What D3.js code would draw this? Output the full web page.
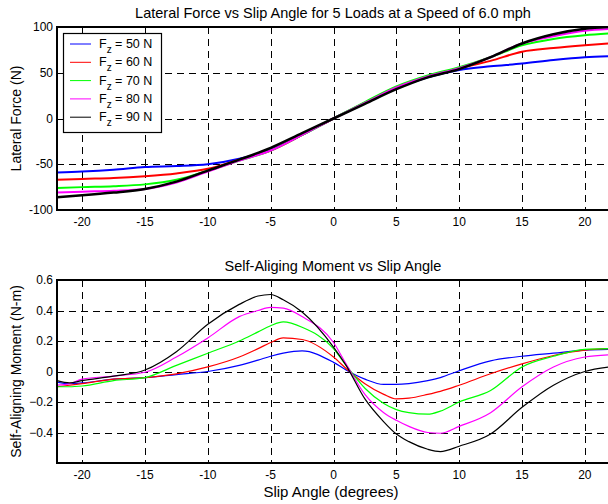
<!DOCTYPE html>
<html>
<head>
<meta charset="utf-8">
<script src="https://cdn.jsdelivr.net/npm/d3@7"></script>
<style>
body{margin:0;background:#fff;}
text{font-family:"Liberation Sans",Arial,sans-serif;}
</style>
</head>
<body>
<div id="canvas"></div>
<script>
var w = 608;
var h = 504;

// loads and colours
var loads = [50, 60, 70, 80, 90];
var colors = ["#0000ff", "#ff0000", "#00ff00", "#ff00ff", "#000000"];

// lateral force (N) vs slip angle
var slipTop = [-22,-20,-17.5,-15,-12.5,-10,-7.5,-5,-2.5,0,2.5,5,7.5,10,12.5,15,17.5,20,22];
var fy50 = [-59,-58,-56,-53,-52,-50,-44,-34,-18,0,17,33,45,53,57,60,64,67,68];
var fy60 = [-67,-66,-65,-63,-60,-55,-45,-35,-18,0,17,34,46,55,63,73,77,80,82];
var fy70 = [-76,-75,-74,-72,-67,-57,-46,-35,-18,0,18,35,47,56,67,80,87,91,93];
var fy80 = [-81,-80,-79,-77,-70,-58,-46,-35,-18,0,17,34,46,55,67,82,90,96,98];
var fy90 = [-86,-84,-81,-77,-69,-57,-45,-32,-16,0,16,32,45,54,67,82,92,98,100];

// self-aligning moment (N-m) vs slip angle
var slipBot = [-22,-21,-20,-17.5,-15,-12.5,-10,-7.5,-6,-5,-4,-2.5,0,1,2.5,4,5,6,7.5,8.5,10,12.5,15,17.5,20,22];
var mz50 = [-0.07,-0.08,-0.075,-0.05,-0.04,-0.02,0.0,0.04,0.075,0.1,0.12,0.135,0.06,0.01,-0.05,-0.085,-0.085,-0.08,-0.06,-0.04,0.005,0.07,0.1,0.12,0.14,0.145];
var mz60 = [-0.1,-0.09,-0.08,-0.05,-0.04,-0.015,0.03,0.095,0.15,0.19,0.22,0.21,0.095,0.02,-0.08,-0.15,-0.18,-0.175,-0.15,-0.13,-0.09,-0.015,0.05,0.105,0.14,0.15];
var mz70 = [-0.1,-0.1,-0.095,-0.06,-0.04,0.04,0.12,0.2,0.26,0.3,0.325,0.29,0.15,0.04,-0.11,-0.21,-0.25,-0.27,-0.28,-0.26,-0.2,-0.125,0.03,0.1,0.145,0.15];
var mz80 = [-0.09,-0.08,-0.05,-0.03,-0.005,0.095,0.22,0.36,0.4,0.42,0.415,0.36,0.19,0.05,-0.15,-0.27,-0.32,-0.36,-0.4,-0.405,-0.36,-0.27,-0.1,0.03,0.095,0.11];
var mz90 = [-0.06,-0.075,-0.06,-0.03,0.01,0.13,0.31,0.44,0.495,0.505,0.47,0.39,0.16,0.04,-0.18,-0.33,-0.41,-0.46,-0.51,-0.525,-0.49,-0.41,-0.235,-0.09,0.0,0.03];

var xTicks = [-20,-15,-10,-5,0,5,10,15,20];
var yTicksTop = [-100,-50,0,50,100];
var yTicksBot = [-0.4,-0.2,0,0.2,0.4,0.6];

var svg = d3.select("#canvas").append("svg")
	.attr("width", w)
	.attr("height", h)
	.style("background-color", "white");

var xScale = d3.scaleLinear().domain([-22, 22]).range([57, 610]);
var yTop = d3.scaleLinear().domain([-100, 100]).range([210, 27]);
var yBot = d3.scaleLinear().domain([-0.6, 0.6]).range([463, 280]);

function panel(yScale, yTicks, gridY, xs, series, widths, title, ylabel, fmt){
	var y0 = yScale.range()[1], y1 = yScale.range()[0];
	var g = svg.append("g");
	var clipId = "clip" + Math.round(y0);
	svg.append("clipPath").attr("id", clipId)
		.append("rect").attr("x", 57).attr("y", y0).attr("width", 553).attr("height", y1 - y0);

	// grid
	g.selectAll(".gx").data(xTicks).join("line")
		.attr("x1", function(d){ return Math.round(xScale(d)) + 0.5; })
		.attr("x2", function(d){ return Math.round(xScale(d)) + 0.5; })
		.attr("y1", y0).attr("y2", y1)
		.attr("stroke", "#000").attr("stroke-width", 1)
		.attr("stroke-dasharray", "7,5");
	g.selectAll(".gy").data(gridY).join("line")
		.attr("x1", 57).attr("x2", 610)
		.attr("y1", function(d){ return Math.round(yScale(d)) + 0.5; })
		.attr("y2", function(d){ return Math.round(yScale(d)) + 0.5; })
		.attr("stroke", "#000").attr("stroke-width", 1)
		.attr("stroke-dasharray", "7,5");

	// lines
	var line = d3.line()
		.x(function(d){ return xScale(d[0]); })
		.y(function(d){ return yScale(d[1]); })
		.curve(d3.curveMonotoneX);
	var lg = g.append("g").attr("clip-path", "url(#" + clipId + ")");
	series.forEach(function(vals, i){
		lg.append("path")
			.datum(xs.map(function(x, j){ return [x, vals[j]]; }))
			.attr("d", line)
			.attr("fill", "none")
			.attr("stroke", colors[i])
			.attr("stroke-width", widths[i]);
	});

	// frame
	g.append("rect")
		.attr("x", 57).attr("y", y0)
		.attr("width", 560).attr("height", y1 - y0)
		.attr("fill", "none").attr("stroke", "#000").attr("stroke-width", 2);

	// tick labels
	g.selectAll(".xl").data(xTicks).join("text")
		.attr("x", function(d){ return xScale(d); })
		.attr("y", y1 + 16)
		.attr("text-anchor", "middle")
		.attr("font-size", 12)
		.text(function(d){ return d; });
	g.selectAll(".yl").data(yTicks).join("text")
		.attr("x", 53)
		.attr("y", function(d){ return yScale(d) + 4; })
		.attr("text-anchor", "end")
		.attr("font-size", 12)
		.text(fmt);

	// title and y label
	g.append("text").attr("x", 333).attr("y", y0 - 9)
		.attr("text-anchor", "middle").attr("font-size", 14.5).text(title);
	g.append("text")
		.attr("transform", "translate(21," + ((y0 + y1) / 2) + ") rotate(-90)")
		.attr("text-anchor", "middle").attr("font-size", 14).text(ylabel);
}

panel(yTop, yTicksTop, [-50, 0, 50], slipTop, [fy50, fy60, fy70, fy80, fy90], [2, 2, 2, 2, 2.5],
	"Lateral Force vs Slip Angle for 5 Loads at a Speed of 6.0 mph", "Lateral Force (N)",
	function(d){ return d; });
panel(yBot, yTicksBot, [-0.4, -0.2, 0, 0.2, 0.4], slipBot, [mz50, mz60, mz70, mz80, mz90], [1.2, 1.2, 1.2, 1.2, 1.2],
	"Self-Aliging Moment vs Slip Angle", "Self-Aligning Moment (N-m)",
	function(d){ return d === 0 ? "0" : d3.format(".1f")(d); });

svg.append("text").attr("x", 331).attr("y", 497)
	.attr("text-anchor", "middle").attr("font-size", 15).text("Slip Angle (degrees)");

// legend
var leg = svg.append("g");
leg.append("rect").attr("x", 63.5).attr("y", 33.5).attr("width", 98).attr("height", 99)
	.attr("fill", "white").attr("stroke", "#000").attr("stroke-width", 1.2);
var items = leg.selectAll(".li").data(loads).join("g")
	.attr("transform", function(d, i){ return "translate(0," + (44 + i * 18.3) + ")"; });
items.append("line").attr("x1", 70).attr("x2", 91).attr("y1", 0).attr("y2", 0)
	.attr("stroke", function(d, i){ return colors[i]; }).attr("stroke-width", 1);
var t = items.append("text").attr("x", 99).attr("y", 4).attr("font-size", 12.5);
t.append("tspan").text("F");
t.append("tspan").attr("dy", 5).attr("font-size", 10).text("z");
t.append("tspan").attr("dy", -5).text(function(d){ return " = " + d + " N"; });
</script>
</body>
</html>
